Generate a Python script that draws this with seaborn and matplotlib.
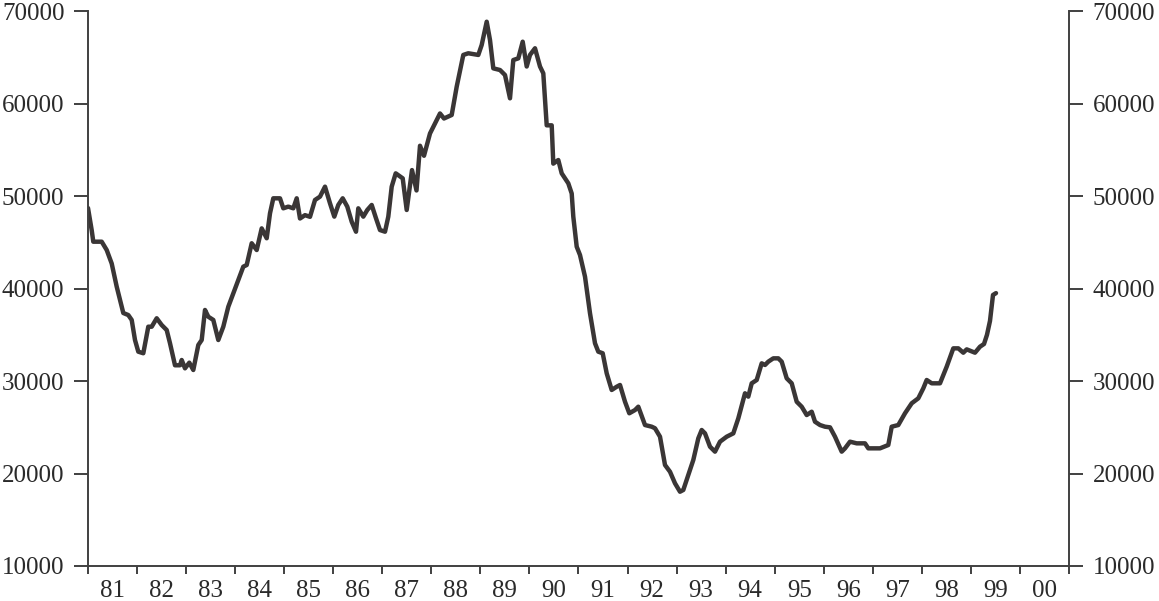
import numpy as np
import matplotlib
matplotlib.use("Agg")
import matplotlib.pyplot as plt
import seaborn as sns

# pixel-read positions of the vertices, converted to decimal years below
x_px = [88, 91.7, 93.3, 101.7, 106.7, 111.7, 116.7, 121.7, 123.3, 128.3,
        131.7, 135, 138.3, 143.3, 148.3, 151.7, 156.7, 161.7, 166.7, 170,
        175, 180, 181.7, 185, 189.3, 193.3, 198.3, 201.7, 205, 208.3,
        213.3, 218.3, 223.3, 228.3, 233.3, 238.3, 243.3, 246.7, 251.7, 256.7,
        261.7, 266.7, 270, 273.3, 280, 283.3, 288.3, 293.3, 296.7, 300,
        305, 310, 315, 320, 325, 330, 334.3, 338.3, 342.7, 347.3,
        351.7, 356, 358.3, 363.3, 367.3, 371.7, 376, 380, 385, 388.3,
        391.7, 395.7, 402.7, 406.7, 412, 416.5, 420, 424, 430, 435,
        440, 444, 451.7, 456.7, 463.3, 468.3, 478.3, 481.7, 486.7, 490,
        493.3, 500, 505, 510, 513.3, 518.3, 522.7, 526.7, 530, 535,
        540, 543.3, 546.7, 551.7, 553.3, 558.3, 561.7, 568.3, 571.7, 573.3,
        576.7, 580, 585, 590, 595, 598.3, 602.7, 606.7, 611.7, 616.7,
        620, 625, 629.3, 635, 638.3, 645, 651.7, 655, 660, 665,
        670, 675, 680, 683.3, 688.3, 693.3, 698.3, 701.7, 705, 710,
        715, 720, 726.7, 733.3, 738.3, 745, 748.3, 751.7, 756.7, 761.7,
        765, 768.3, 773.3, 778.3, 781.7, 786.7, 791.7, 796.7, 801.7, 806.7,
        811.7, 815, 820, 825, 830, 835, 841.7, 845, 850, 856.7,
        865, 868.3, 880, 888.3, 891.7, 898.3, 905, 911.7, 918.3, 923.3,
        926.7, 931.7, 940, 946.7, 953.3, 958.3, 963.3, 966.7, 975, 980,
        984, 987, 990, 993, 996]

values = [48700, 46300, 45060, 45060, 44160, 42700, 40200, 38030, 37350, 37130,
          36600, 34430, 33170, 33000, 35870, 35870, 36780, 36050, 35510, 34080,
          31700, 31700, 32270, 31370, 31980, 31190, 33890, 34430, 37680, 36950,
          36600, 34430, 35870, 38030, 39480, 40920, 42360, 42540, 44890, 44160,
          46500, 45430, 48130, 49750, 49750, 48670, 48850, 48670, 49750, 47570,
          47930, 47750, 49570, 49930, 51010, 49210, 47770, 49030, 49750, 48850,
          47220, 46140, 48670, 47770, 48490, 49030, 47590, 46320, 46140, 47770,
          51010, 52450, 51910, 48490, 52800, 50600, 55430, 54350, 56760, 57840,
          58920, 58380, 58760, 61820, 65250, 65430, 65250, 66330, 68840, 66860,
          63800, 63620, 63080, 60560, 64700, 64880, 66680, 64000, 65250, 65970,
          64000, 63260, 57640, 57640, 53500, 53890, 52450, 51370, 50270, 47770,
          44520, 43620, 41280, 37320, 34080, 33170, 33000, 30830, 29030, 29380,
          29570, 27760, 26510, 26860, 27220, 25240, 25060, 24890, 23980, 20920,
          20190, 18940, 18030, 18220, 19840, 21460, 23800, 24700, 24340, 22900,
          22360, 23440, 23980, 24340, 25960, 28670, 28310, 29750, 30110, 31910,
          31730, 32090, 32450, 32450, 32090, 30290, 29750, 27760, 27220, 26320,
          26680, 25600, 25240, 25060, 24990, 23980, 22360, 22720, 23440, 23260,
          23260, 22720, 22720, 23080, 25060, 25240, 26510, 27590, 28130, 29210,
          30110, 29750, 29750, 31550, 33530, 33530, 33060, 33420, 33060, 33710,
          34000, 35000, 36500, 39300, 39500]

years = [1981 + (p - 88) / 49.05 for p in x_px]

year_ticks = list(range(1981, 2002))
year_labels = ["81", "82", "83", "84", "85", "86", "87", "88", "89", "90",
               "91", "92", "93", "94", "95", "96", "97", "98", "99", "00"]
y_ticks = [10000, 20000, 30000, 40000, 50000, 60000, 70000]


def main():
    sns.set_style("ticks")
    plt.rcParams["font.family"] = ["Liberation Serif", "DejaVu Serif"]

    fig = plt.figure(figsize=(11.59, 6.01), dpi=100)
    ax = fig.add_axes([88 / 1159, 1 - 566 / 601, (1069 - 88) / 1159, (566 - 11) / 601])

    sns.lineplot(x=years, y=values, ax=ax, color="#3a3636", linewidth=3.2)

    ax.set_xlim(1981, 2001)
    ax.set_ylim(10000, 70000)
    ax.set_xticks(year_ticks)
    ax.set_xticklabels([])
    ax.set_xticks([y + 0.5 for y in year_ticks[:-1]], minor=True)
    ax.set_xticklabels(year_labels, minor=True)
    ax.set_yticks(y_ticks)
    ax.set_yticklabels([str(v) for v in y_ticks])

    ax.tick_params(axis="x", which="major", length=6, width=1.4, color="#404040", direction="out")
    ax.tick_params(axis="x", which="minor", length=0, pad=10, labelsize=18, labelcolor="#2a2a2a")
    ax.tick_params(axis="y", length=10, width=1.4, color="#404040", direction="out",
                   left=True, right=True, labelleft=True, labelright=True,
                   labelsize=18, labelcolor="#2a2a2a", pad=7)

    sns.despine(ax=ax, top=True, right=False)
    for side in ["left", "right", "bottom"]:
        ax.spines[side].set_color("#404040")
        ax.spines[side].set_linewidth(1.4)
    ax.set_xlabel("")
    ax.set_ylabel("")

    fig.savefig("out.png", dpi=100)


if __name__ == "__main__":
    main()
